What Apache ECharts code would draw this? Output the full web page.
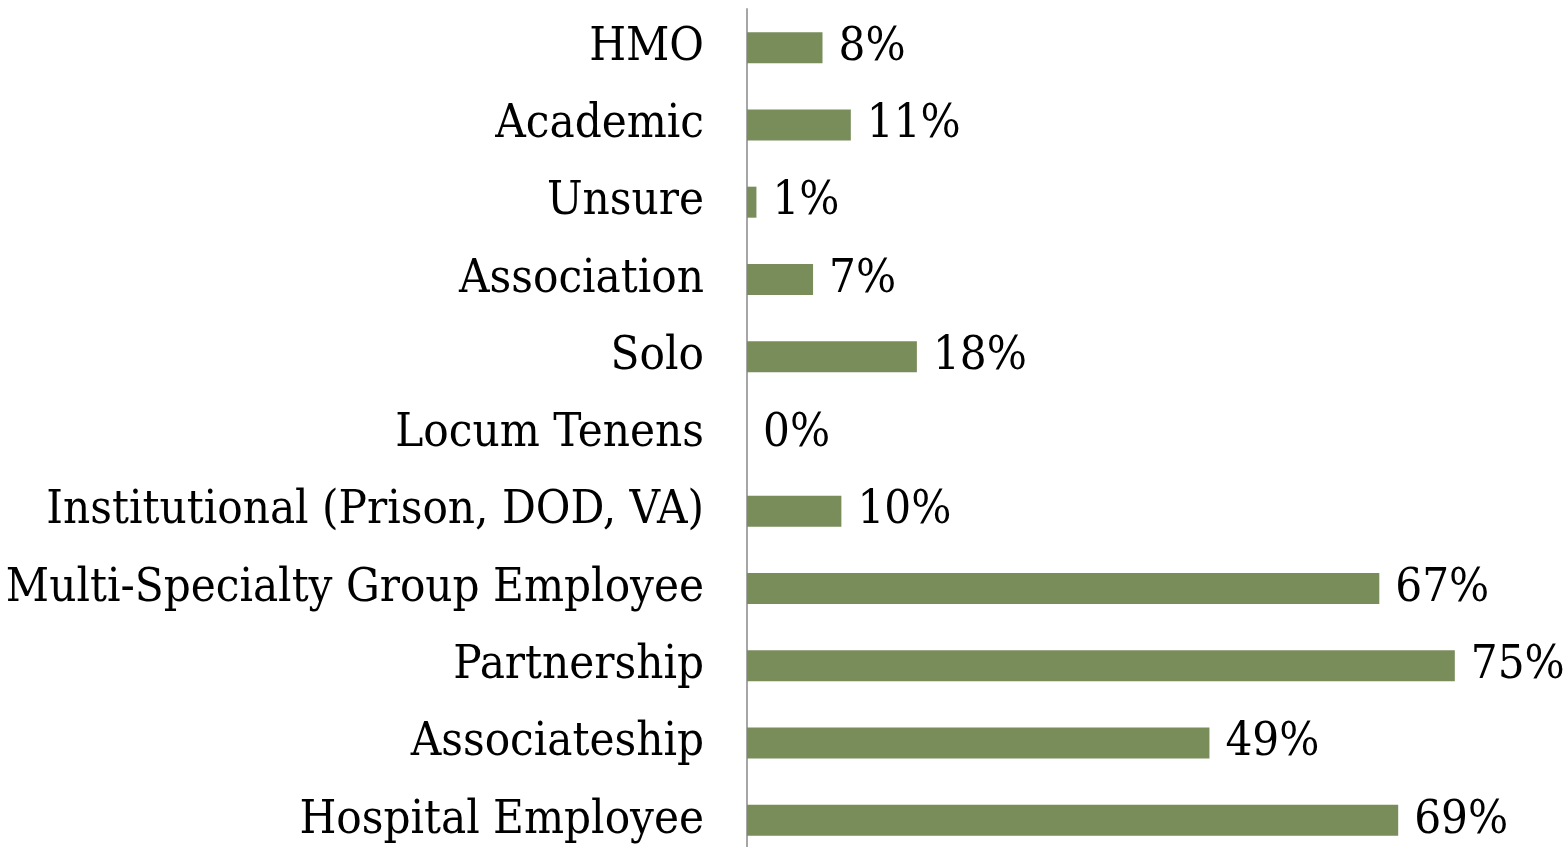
<!DOCTYPE html>
<html>
<head>
<meta charset="utf-8">
<script src="https://cdn.jsdelivr.net/npm/echarts@6/dist/echarts.min.js"></script>
<style>
html, body { margin: 0; padding: 0; background: #fff; overflow: hidden; }
#chart { width: 1567px; height: 866px; }
</style>
</head>
<body>
<div id="chart"></div>
<script>
// categories listed bottom to top
var categories = ["Hospital Employee", "Associateship", "Partnership",
	"Multi-Specialty Group Employee", "Institutional (Prison, DOD, VA)",
	"Locum Tenens", "Solo", "Association", "Unsure", "Academic", "HMO"];
var values = [69, 49, 75, 67, 10, 0, 18, 7, 1, 11, 8];

// the plot runs a little past the bottom of the window, as in the original
var myChart = echarts.init(document.getElementById("chart"));

var option = {
	animation : false,
	grid : {
		left : 747,
		right : 65,
		top : 9,
		bottom : 7,
		containLabel : false
	},
	xAxis : {
		type : "value",
		min : 0,
		max : 80,
		show : false
	},
	yAxis : {
		type : "category",
		data : categories,
		axisLine : {
			lineStyle : { color : "#a6a6a6", width : 2 }
		},
		axisTick : { show : false },
		axisLabel : {
			color : "#000",
			fontFamily : "DejaVu Serif Condensed, DejaVu Serif",
			fontSize : 47,
			margin : 43
		}
	},
	series : [ {
		type : "bar",
		data : values,
		barWidth : 31,
		itemStyle : { color : "#788d5a" },
		label : {
			show : true,
			position : "right",
			distance : 16,
			formatter : "{c}%",
			color : "#000",
			fontFamily : "DejaVu Serif Condensed, DejaVu Serif",
			fontSize : 47
		}
	} ]
};

myChart.setOption(option);
</script>
</body>
</html>
